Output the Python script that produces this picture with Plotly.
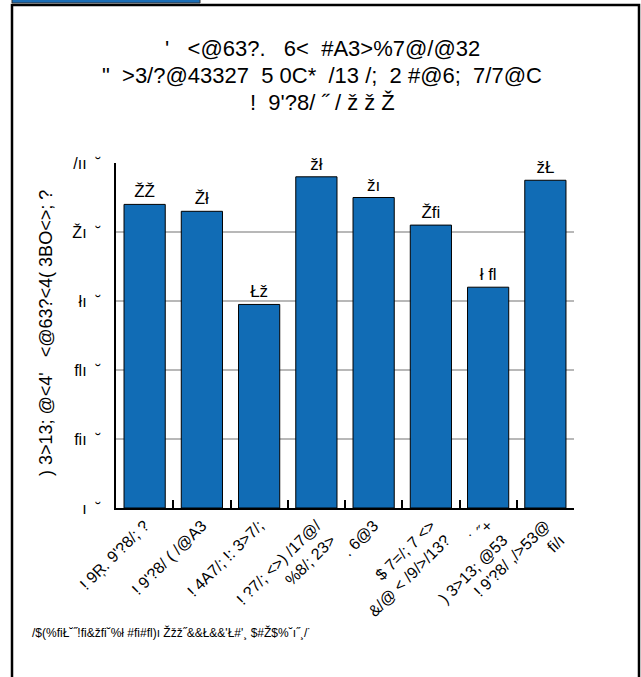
import plotly.graph_objects as go

# ---- data ----
categories = [
    "! 9Ŗ. 9'?8/; ?",
    "! 9'?8/ ( /@A3",
    "! 4A7/; !: 3>7/;",
    "! ?7/; <>) /17@/<br>%8/; 23>",
    ". 6@3",
    "$ 7=/; 7 <><br>&/@ < /9/>/13?",
    "˙ ˝+<br>) 3>13; @53",
    "! 9'?8/ ,/>53@<br>fi/ı",
]
values = [88, 86, 59, 96, 90, 82, 64, 95]
value_labels = ["ŽŽ", "Žł", "Łž", "žł", "žı", "Žfi", "ł fl", "žŁ"]
y_tick_vals = [0, 20, 40, 60, 80, 100]
y_tick_text = ["ı  ˘", "fiı  ˘", "flı  ˘", "łı  ˘", "Žı  ˘", "/ıı  ˘"]
title_lines = [
    "'   <@63?.   6<  #A3>%7@/@32",
    "\"  >3/?@43327  5 0C*  /13 /;  2 #@6;  7/7@C",
    "!  9'?8/ ˝ / ž ž Ž",
]
y_title = ") 3>13; @<4'   <@63?<4( 3BO<>; ?"
footnote = "/$(%fiŁ˘˝!fi&žfi˘%ł #fi#fl)ı Žžž˝&&Ł&&'Ł#'¸ $#Ž$%˘ı˝¸/˙"

FONT = "Liberation Sans"
W, H = 641, 677
L, R, T, B = 116, 574, 163, 508
pw, ph = R - L, B - T

def px(x):
    return (x - L) / pw

def py(y):
    return (B - y) / ph

fig = go.Figure()
fig.add_trace(go.Bar(
    x=categories, y=values, text=value_labels,
    textposition="outside", cliponaxis=False,
    textfont=dict(family=FONT, size=17, color="black"),
    marker=dict(color="#116cb5", line=dict(color="black", width=1)),
    width=0.72,
))

annotations = []
for t, yy in zip(title_lines, [48, 75, 102]):
    annotations.append(dict(
        text=t, x=px(322), y=py(yy), xref="paper", yref="paper",
        showarrow=False, xanchor="center", yanchor="middle",
        font=dict(family=FONT, size=22, color="black"),
    ))
annotations.append(dict(
    text=y_title, x=px(46), y=py(333), xref="paper", yref="paper",
    showarrow=False, textangle=-90, xanchor="center", yanchor="middle",
    font=dict(family=FONT, size=18, color="black"),
))
annotations.append(dict(
    text=footnote, x=px(30), y=py(632), xref="paper", yref="paper",
    showarrow=False, xanchor="left", yanchor="middle",
    font=dict(family=FONT, size=12, color="black"),
))

shapes = [
    dict(type="rect", xref="paper", yref="paper",
         x0=px(12), x1=px(639), y0=py(700), y1=py(5),
         line=dict(color="black", width=2.5), fillcolor="rgba(0,0,0,0)", layer="above"),
    dict(type="rect", xref="paper", yref="paper",
         x0=px(12), x1=px(200), y0=py(3), y1=py(-6),
         line=dict(color="#333333", width=1), fillcolor="#1a6db5", layer="above"),
]

fig.update_layout(
    width=W, height=H,
    margin=dict(l=L, r=W - R, t=T, b=H - B, pad=0),
    paper_bgcolor="white", plot_bgcolor="white",
    showlegend=False,
    annotations=annotations, shapes=shapes,
)
fig.update_xaxes(
    type="category", tickangle=-45,
    tickfont=dict(family=FONT, size=16, color="black"),
    showline=True, linecolor="black", linewidth=2,
    ticks="inside", tickson="boundaries", ticklen=8, tickwidth=2, tickcolor="black",
    showgrid=False, range=[-0.5, 7.5],
)
fig.update_yaxes(
    range=[0, 100], tickvals=y_tick_vals, ticktext=y_tick_text,
    tickfont=dict(family=FONT, size=16, color="black"),
    showline=True, linecolor="black", linewidth=2,
    showgrid=True, gridcolor="#b8b8b8", gridwidth=2,
    ticks="", ticklabelstandoff=10, zeroline=False,
)

fig.write_html(
    "out.html",
    config={"displayModeBar": False},
    post_script="document.body.style.margin='0';document.body.style.overflow='hidden';",
)
